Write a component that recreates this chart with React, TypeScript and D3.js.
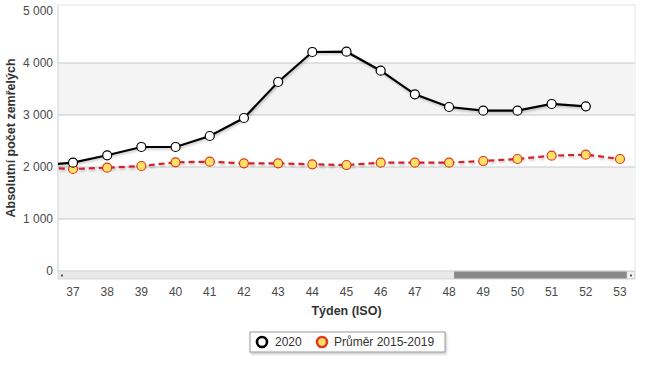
import React from 'react'
import * as d3 from 'd3'

// týdny (ISO), 36 je jen kousek vlevo za okrajem grafu
const weeks = [36, 37, 38, 39, 40, 41, 42, 43, 44, 45, 46, 47, 48, 49, 50, 51, 52, 53]
const tickWeeks = [37, 38, 39, 40, 41, 42, 43, 44, 45, 46, 47, 48, 49, 50, 51, 52, 53]
const deaths2020 = [2030, 2083, 2225, 2385, 2385, 2596, 2942, 3635, 4212, 4218, 3852, 3398, 3154, 3083, 3083, 3212, 3167]
const avg2015_2019 = [1990, 1962, 1987, 2019, 2090, 2102, 2071, 2071, 2051, 2038, 2083, 2083, 2083, 2115, 2154, 2218, 2237, 2154]
const yTicks = [0, 1000, 2000, 3000, 4000, 5000]
const legendLabels = ['2020', 'Průměr 2015-2019']

const W = 650
const H = 365
const margin = { top: 5, right: 15, bottom: 94, left: 58 }
const font = '"Liberation Sans", Arial, sans-serif'

export default function App() {
  const x = d3.scaleLinear()
    .domain([37, 53])
    .range([73, 620])
  const y = d3.scaleLinear()
    .domain([0, 5000])
    .range([271, 11])

  const left = margin.left
  const right = W - margin.right
  const top = margin.top
  const bottom = 271

  const line = d3.line<number>()
    .x((_, i) => x(weeks[i]))
    .y((d) => y(d))

  const fmt = (v: number) => (v >= 1000 ? d3.format(',')(v).replace(',', ' ') : String(v))

  return (
    <svg width={W} height={H} style={{ position: 'absolute', left: 0, top: 0, fontFamily: font }}>
      <defs>
        <clipPath id="plot">
          <rect x={left} y={top} width={right - left} height={bottom - top} />
        </clipPath>
        <filter id="shadow" x="-5%" y="-5%" width="110%" height="130%">
          <feDropShadow dx="1" dy="1.5" stdDeviation="1.2" floodColor="#000" floodOpacity="0.25" />
        </filter>
      </defs>

      {/* pozadí a pásy */}
      <rect x={left} y={top} width={right - left} height={bottom - top} fill="#fff" stroke="#e6e6e6" />
      {[[1000, 2000], [3000, 4000]].map(([a, b]) => (
        <rect key={a} x={left} y={y(b)} width={right - left} height={y(a) - y(b)} fill="#f4f4f4" />
      ))}
      {yTicks.filter((t) => t > 0 && t < 5000).map((t) => (
        <line key={t} x1={left} x2={right} y1={y(t)} y2={y(t)} stroke="#c8c8c8" />
      ))}
      <line x1={left} x2={left} y1={top} y2={bottom} stroke="#d8d8d8" />

      {/* osa y */}
      {yTicks.map((t) => (
        <text key={t} x={53} y={y(t)} dy="0.35em" textAnchor="end" fontSize={12} fill="#4a4a4a">
          {fmt(t)}
        </text>
      ))}
      <text transform={`translate(15,${(top + bottom) / 2}) rotate(-90)`} textAnchor="middle"
        fontSize={12.5} fontWeight="bold" fill="#333">
        Absolutní počet zemřelých
      </text>

      {/* řady */}
      <g clipPath="url(#plot)">
        <path d={line(avg2015_2019) ?? ''} fill="none" stroke="#d2232a" strokeWidth={2.2}
          strokeDasharray="6,4" filter="url(#shadow)" />
        <path d={line(deaths2020) ?? ''} fill="none" stroke="#000" strokeWidth={2.2} filter="url(#shadow)" />
        {avg2015_2019.map((v, i) => (
          <circle key={i} cx={x(weeks[i])} cy={y(v)} r={4.5} fill="#ffe066" stroke="#d9381e" strokeWidth={1.2} />
        ))}
        {deaths2020.map((v, i) => (
          <circle key={i} cx={x(weeks[i])} cy={y(v)} r={4.5} fill="#fff" stroke="#000" strokeWidth={1.2} />
        ))}
      </g>

      {/* posuvník */}
      <rect x={left} y={271} width={right - left} height={8} fill="#e8e8e8" stroke="#cfcfcf" strokeWidth={0.8} />
      <rect x={x(48) + 5} y={271.5} width={right - 8 - x(48) - 5} height={7} fill="#8a8a8a" />
      <rect x={right - 8} y={271.5} width={7.5} height={7} fill="#f2f2f2" stroke="#ccc" strokeWidth={0.6} />
      <rect x={left + 3} y={274.5} width={2} height={2} fill="#555" />
      <rect x={right - 5} y={274.5} width={2} height={2} fill="#555" />

      {/* osa x */}
      {tickWeeks.map((w) => (
        <text key={w} x={x(w)} y={292} dy="0.35em" textAnchor="middle" fontSize={12} fill="#4a4a4a">
          {w}
        </text>
      ))}
      <text x={(left + right) / 2} y={311} dy="0.35em" textAnchor="middle" fontSize={12.5} fontWeight="bold" fill="#333">
        Týden (ISO)
      </text>

      {/* legenda */}
      <rect x={250} y={332} width={195} height={20} fill="#fff" stroke="#999" filter="url(#shadow)" />
      <circle cx={262} cy={342} r={5} fill="#fff" stroke="#000" strokeWidth={2.6} />
      <text x={275} y={342} dy="0.35em" fontSize={12} fill="#333">{legendLabels[0]}</text>
      <circle cx={322} cy={342} r={5} fill="#ffe066" stroke="#e23a1e" strokeWidth={2.6} />
      <text x={334} y={342} dy="0.35em" fontSize={12} fill="#333">{legendLabels[1]}</text>
    </svg>
  )
}
